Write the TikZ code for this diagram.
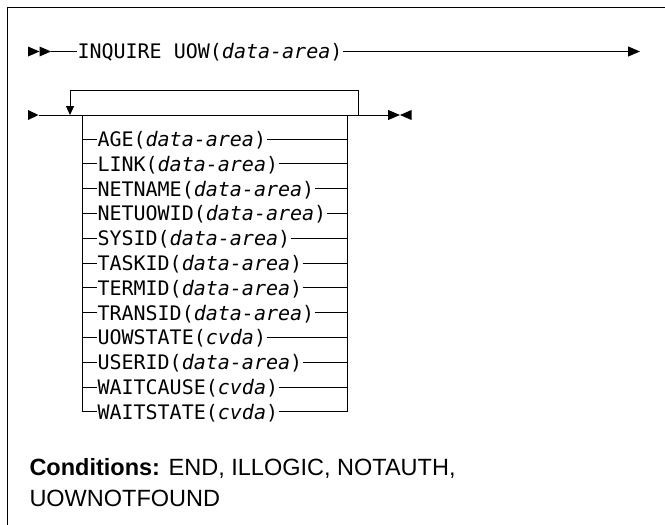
\documentclass[tikz,border=0pt]{standalone}
\usepackage{fontspec}
\newfontfamily\monof{DejaVu Sans Mono}
\newfontfamily\condf{Liberation Sans}
\usetikzlibrary{arrows.meta}
\begin{document}
\begin{tikzpicture}[x=1pt,y=-1pt,line width=1pt,
  syn/.style={font=\monof\fontsize{20}{24}\selectfont, inner sep=0pt, anchor=base west},
  cond/.style={font=\condf\fontsize{23.5}{31}\selectfont, inner sep=0pt, anchor=base west},
  endtip/.style={-{Triangle[length=12pt,width=10pt]}},
  looptip/.style={-{Triangle[length=9pt,width=8pt]}}]
\useasboundingbox (0,0) rectangle (665,525);
% frame (only top and left edges fall inside the picture)
\draw[line width=1.1pt] (7.3,560) -- (7.3,7.3) -- (700,7.3);

% ---- first line
\coordinate (a3) at (51,51.5);
\coordinate (e1) at (640,51.5);
\fill (28,46.5) -- (39.5,51.5) -- (28,56.5) -- cycle;
\fill (39.5,46.5) -- (51,51.5) -- (39.5,56.5) -- cycle;
\node[syn] (t1) at (77,58.5) {INQUIRE UOW(\textit{data-area})};
\draw (a3) -- (a3 -| t1.west);
\draw[endtip] (t1.east |- a3) -- (e1);

% ---- second line
\coordinate (m1) at (38.5,115);
\coordinate (lp) at (70,115);
\coordinate (bl) at (82,115);
\coordinate (br) at (347,115);
\coordinate (lr) at (358,115);
\coordinate (lt) at (358,90);
\coordinate (m2) at (400,115);
\fill (28,110) -- (38.5,115) -- (28,120) -- cycle;
\draw[endtip] (m1) -- (m2);
\fill (411.5,110) -- (400,115) -- (411.5,120) -- cycle;
\draw[looptip] (lr) -- (lt) -| (lp);

% ---- options
\foreach \kw/\arg [count=\i] in {AGE/data-area, LINK/data-area, NETNAME/data-area,
    NETUOWID/data-area, SYSID/data-area, TASKID/data-area, TERMID/data-area,
    TRANSID/data-area, UOWSTATE/cvda, USERID/data-area, WAITCAUSE/cvda, WAITSTATE/cvda}{
  \pgfmathsetmacro{\yy}{139+24.8*(\i-1)}
  \coordinate (L\i) at (82,\yy);
  \coordinate (R\i) at (347,\yy);
  \node[syn] (r\i) at (97,\yy+7.4) {\kw(\textit{\arg})};
  \draw (L\i) -- (L\i -| r\i.west);
  \draw (r\i.east |- R\i) -- (R\i);
}
\draw (bl) -- (L12);
\draw (br) -- (R12);

% ---- conditions
\node[cond] (c1) at (29,475) {\textbf{Conditions:} END, ILLOGIC, NOTAUTH,};
\node[cond] (c2) at (29,506) {UOWNOTFOUND};
\end{tikzpicture}
\end{document}
